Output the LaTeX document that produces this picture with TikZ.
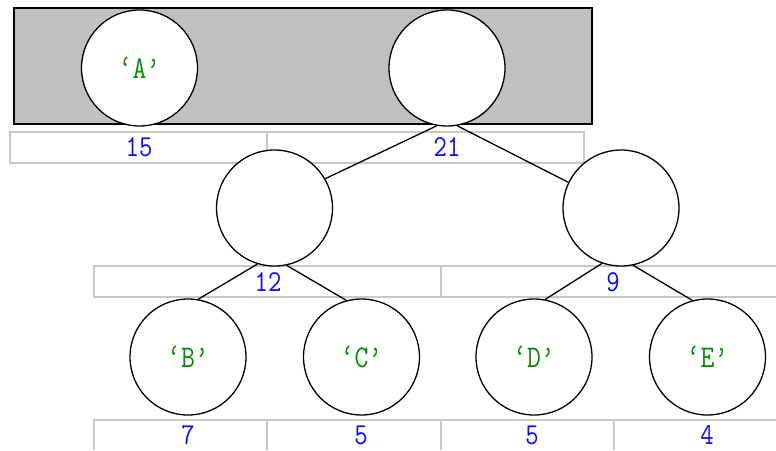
\documentclass[tikz,border=0pt]{standalone}
\usepackage{fontspec}
\usepackage{graphicx}
\newcommand\talltxt[1]{\scalebox{1}[1.17]{#1}}
\begin{document}
\begin{tikzpicture}[x=1pt,y=-1pt,
  nd/.style={circle,draw=black,line width=1.3pt,fill=white,minimum size=116pt,inner sep=0pt,
    font=\ttfamily\fontsize{27}{27}\selectfont,text={rgb,255:red,0;green,145;blue,0}},
  cell/.style={draw={rgb,255:red,200;green,200;blue,200},line width=1.5pt},
  num/.style={font=\ttfamily\fontsize{26}{26}\selectfont,text={rgb,255:red,10;green,10;blue,255},inner sep=0pt},
  edge/.style={line width=1.3pt}]
\useasboundingbox (0,0) rectangle (776,450);
% top gray band
\draw[fill={rgb,255:red,192;green,192;blue,192},line width=1.5pt] (14,8) rectangle (592,124);
% cell rows
\draw[cell] (10,132) rectangle (267,163);
\draw[cell] (267,132) rectangle (584,163);
\draw[cell] (776,266) -- (94,266) -- (94,297) -- (776,297) (441,266) -- (441,297);
\draw[cell] (94,450) -- (94,420) -- (776,420) (267,420) -- (267,450) (441,420) -- (441,450) (614,420) -- (614,450);
% numbers
\node[num] (n15) at (139,147) {\talltxt{15}};
\node[num] (n21) at (447,147) {\talltxt{21}};
\node[num] (n12) at (268,282) {\talltxt{12}};
\node[num] (n9) at (613,282) {\talltxt{9}};
\node[num] (n7) at (188,435) {\talltxt{7}};
\node[num] (n5a) at (361,435) {\talltxt{5}};
\node[num] (n5b) at (532,435) {\talltxt{5}};
\node[num] (n4) at (707,435) {\talltxt{4}};
% nodes
\node[nd] (A) at (139.5,68) {\talltxt{‘A’}};
\node[nd] (root) at (447,68) {};
\node[nd] (L) at (274.5,208) {};
\node[nd] (R) at (621,208) {};
\node[nd] (B) at (188,357) {\talltxt{‘B’}};
\node[nd] (C) at (361.5,357) {\talltxt{‘C’}};
\node[nd] (D) at (534,357) {\talltxt{‘D’}};
\node[nd] (E) at (707.5,357) {\talltxt{‘E’}};
% edges
\draw[edge] (root.-100) -- (L.30);
\draw[edge] (root.-80) -- (R.154);
\draw[edge] (L.-107) -- (B.80);
\draw[edge] (L.-78) -- (C.105);
\draw[edge] (R.-109) -- (D.79);
\draw[edge] (R.-78) -- (E.105);
\end{tikzpicture}
\end{document}
